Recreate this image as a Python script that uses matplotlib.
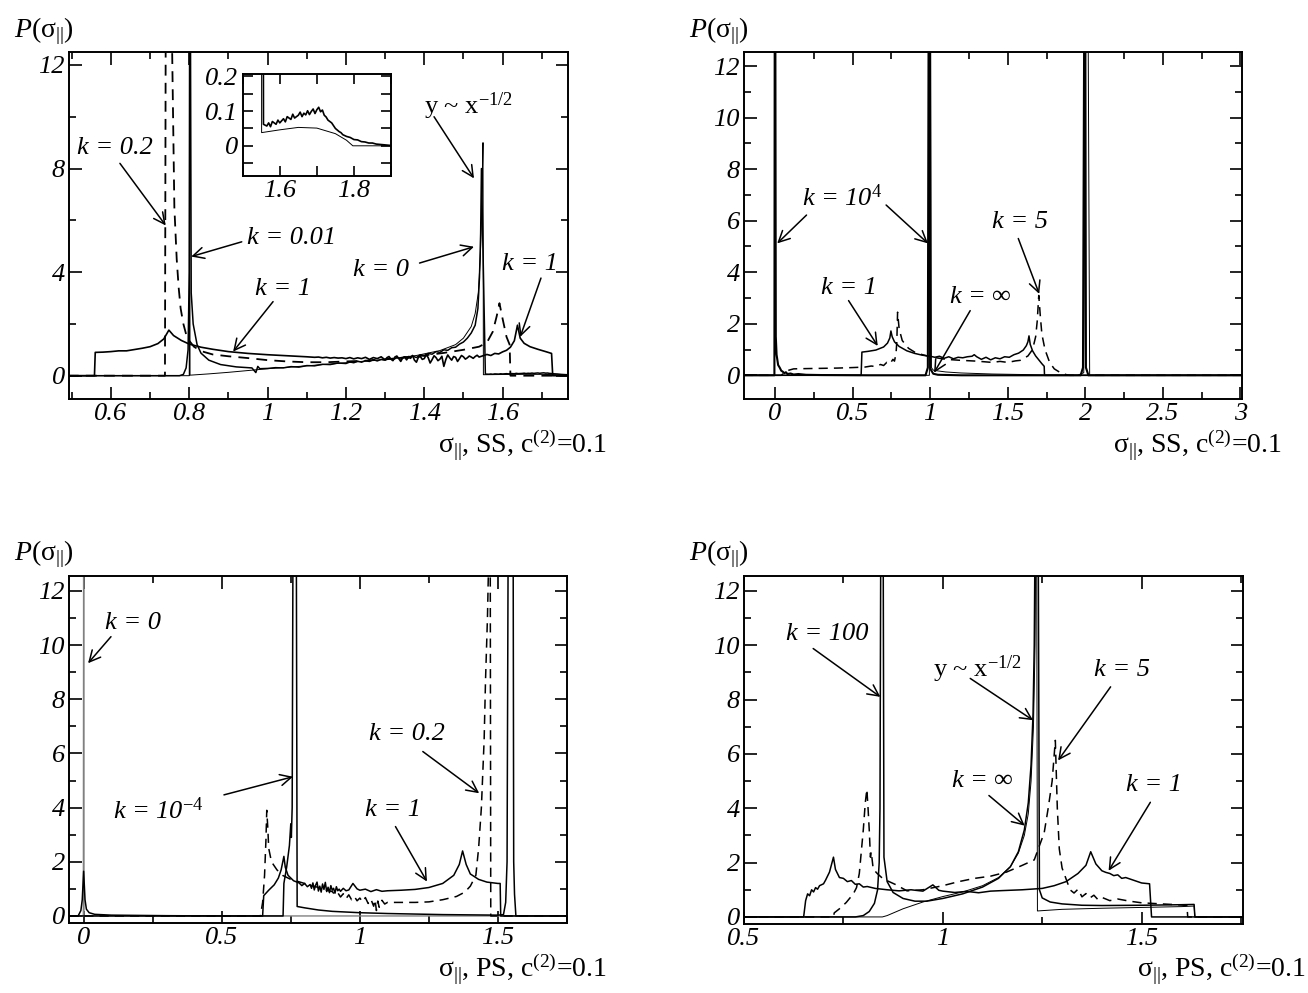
import numpy as np
import matplotlib
matplotlib.use('Agg')
import matplotlib.pyplot as plt
from matplotlib.ticker import MultipleLocator

plt.rcParams['font.family'] = 'Liberation Serif'
plt.rcParams['mathtext.fontset'] = 'custom'
plt.rcParams['mathtext.rm'] = 'Liberation Serif'
plt.rcParams['mathtext.it'] = 'Liberation Serif:italic'
plt.rcParams['mathtext.fallback'] = 'stix'

# ---------------- panel 1 : SS ----------------
p1_k1_x = [0.49, 0.558, 0.560, 0.58, 0.60, 0.62, 0.64, 0.66, 0.68, 0.70, 0.72, 0.735, 0.748, 0.76, 0.78,
           0.80, 0.83, 0.86, 0.90, 0.95, 1.00, 1.05,
           1.10, 1.11, 1.12, 1.13, 1.14, 1.15, 1.16, 1.17, 1.18, 1.19, 1.20, 1.21, 1.22, 1.23, 1.24,
           1.25, 1.26, 1.27, 1.28, 1.29, 1.30, 1.305, 1.31, 1.315, 1.32, 1.325, 1.33, 1.335, 1.34,
           1.345, 1.35, 1.355, 1.36, 1.365, 1.37, 1.375, 1.38, 1.385, 1.39, 1.395, 1.40, 1.405, 1.41,
           1.415, 1.42, 1.425, 1.43, 1.435, 1.44, 1.445, 1.45, 1.455, 1.46, 1.465, 1.47, 1.475, 1.48,
           1.485, 1.49, 1.495, 1.50, 1.505, 1.51, 1.515, 1.52, 1.525, 1.53, 1.535, 1.54, 1.55, 1.56,
           1.57, 1.58, 1.59, 1.60, 1.61, 1.62, 1.63,
           1.638, 1.645, 1.655, 1.67, 1.69, 1.71, 1.725, 1.728, 1.77]
p1_k1_y = [0, 0, 0.90, 0.91, 0.93, 0.96, 0.96, 1.01, 1.06, 1.12, 1.24, 1.42, 1.76, 1.55, 1.36,
           1.22, 1.10, 1.02, 0.93, 0.86, 0.81, 0.77,
           0.73, 0.72, 0.71, 0.72, 0.69, 0.71, 0.68, 0.70, 0.68, 0.69, 0.66, 0.70, 0.65, 0.69, 0.66,
           0.71, 0.63, 0.70, 0.66, 0.73, 0.61, 0.70, 0.74, 0.64, 0.58, 0.72, 0.76, 0.66, 0.55,
           0.69, 0.72, 0.61, 0.74, 0.67, 0.78, 0.60, 0.52, 0.71, 0.74, 0.63, 0.66, 0.81, 0.70,
           0.49, 0.62, 0.77, 0.70, 0.58, 0.64, 0.75, 0.36, 0.62, 0.80, 0.69, 0.60, 0.74, 0.71,
           0.55, 0.66, 0.78, 0.73, 0.64, 0.69, 0.76, 0.72, 0.67, 0.74, 0.79, 0.72, 0.77, 0.82,
           0.78, 0.86, 0.84, 0.92, 0.98, 1.10, 1.35,
           1.95, 1.45, 1.25, 1.12, 1.02, 0.93, 0.86, 0.0, 0.0]

p1_k02_x = [0.49, 0.738, 0.740, 0.742, 0.755, 0.762, 0.768, 0.773, 0.778, 0.785, 0.792, 0.80, 0.812,
            0.83, 0.86, 0.90, 0.95, 1.00, 1.05, 1.10, 1.15, 1.20, 1.25, 1.30, 1.35, 1.40, 1.45, 1.50,
            1.54, 1.56, 1.575, 1.585, 1.592, 1.60, 1.61, 1.618, 1.620, 1.77]
p1_k02_y = [0, 0, 14, 14, 14, 6.5, 4.5, 3.4, 2.6, 2.0, 1.6, 1.35, 1.12,
            0.95, 0.82, 0.75, 0.68, 0.60, 0.55, 0.52, 0.52, 0.55, 0.58, 0.63, 0.70, 0.78, 0.88, 1.00,
            1.12, 1.28, 1.70, 2.30, 2.80, 2.20, 1.50, 1.20, 0.0, 0.0]

p1_k001_x = [0.49, 0.775, 0.785, 0.792, 0.797, 0.800, 0.801, 0.803, 0.805, 0.81, 0.82, 0.83, 0.85,
             0.88, 0.92, 0.96, 0.97, 0.975, 0.98, 1.00, 1.02, 1.04, 1.06, 1.08, 1.10, 1.12, 1.14, 1.16,
             1.18, 1.20, 1.21, 1.22, 1.23, 1.24, 1.25, 1.26, 1.27, 1.28, 1.29, 1.30, 1.31, 1.32, 1.33,
             1.34, 1.35, 1.36, 1.37, 1.38, 1.39, 1.40, 1.41, 1.42, 1.43, 1.44, 1.45, 1.46, 1.47, 1.48,
             1.49, 1.50, 1.51, 1.52, 1.53, 1.537, 1.541, 1.544, 1.546, 1.556,
             1.565, 1.57, 1.575, 1.58, 1.59, 1.595, 1.60, 1.61, 1.615, 1.62, 1.63, 1.635, 1.64, 1.65,
             1.655, 1.66, 1.665, 1.67, 1.675, 1.68, 1.685, 1.69, 1.695, 1.70, 1.705, 1.71, 1.715,
             1.72, 1.725, 1.73, 1.74, 1.745, 1.75, 1.76, 1.765, 1.77, 1.78, 1.79, 1.80, 1.81, 1.82,
             1.83, 1.84, 1.85, 1.86, 1.87, 1.88, 1.89, 1.90]
p1_k001_y = [0, 0, 0.05, 0.3, 1.0, 4.0, 14, 14, 3.2, 2.0, 1.2, 0.87, 0.60,
             0.43, 0.34, 0.30, 0.12, 0.36, 0.27, 0.28, 0.31, 0.30, 0.35, 0.33, 0.39, 0.38, 0.44, 0.43,
             0.49, 0.47, 0.53, 0.50, 0.56, 0.52, 0.58, 0.55, 0.62, 0.57, 0.63, 0.60, 0.67, 0.61, 0.70,
             0.64, 0.73, 0.68, 0.76, 0.70, 0.81, 0.76, 0.86, 0.83, 0.93, 0.90, 1.00, 0.98, 1.08, 1.10,
             1.22, 1.30, 1.45, 1.65, 1.95, 2.6, 3.8, 5.5, 8.0, 0.062,
             0.057, 0.066, 0.055, 0.070, 0.062, 0.074, 0.066, 0.078, 0.069, 0.084, 0.076, 0.091, 0.080,
             0.088, 0.097, 0.084, 0.094, 0.089, 0.101, 0.090, 0.099, 0.106, 0.093, 0.104, 0.111, 0.098,
             0.103, 0.088, 0.083, 0.074, 0.066, 0.058, 0.050, 0.041, 0.038, 0.032, 0.027, 0.024, 0.018,
             0.017, 0.012, 0.011, 0.008, 0.008, 0.005, 0.004, 0.003, 0.002, 0.001]

p1_k0_x = [0.49, 0.800, 0.801, 0.802, 0.85, 0.90, 0.965, 1.00, 1.10, 1.20, 1.30, 1.38, 1.44, 1.48,
           1.50, 1.52, 1.53, 1.538, 1.543, 1.546, 1.548, 1.550, 1.551, 1.60, 1.65, 1.70, 1.75, 1.78,
           1.797, 1.92]
p1_k0_y = [0, 0, 14, 0.02, 0.07, 0.13, 0.22, 0.27, 0.38, 0.50, 0.63, 0.78, 0.97, 1.20,
           1.45, 1.90, 2.40, 3.20, 4.50, 6.00, 7.50, 9.00, 0.038, 0.046, 0.053, 0.051, 0.035, 0.016,
           0.0, 0.0]

# ---------------- panel 2 : SS ----------------
p2_k1e4_x = [-0.2, -0.004, -0.002, 0.002, 0.005, 0.01, 0.02, 0.03, 0.04, 0.05, 0.06, 0.07, 0.08,
             0.10, 0.12, 0.15, 0.2, 0.3, 0.6, 0.97, 0.985, 0.99, 0.998, 1.001, 1.02, 1.05, 1.2,
             1.97, 1.985, 1.993, 2.0, 2.004, 2.02, 3.01]
p2_k1e4_y = [0, 0, 14, 14, 1.5, 0.8, 0.4, 0.3, 0.18, 0.14, 0.08, 0.12, 0.05,
             0.07, 0.03, 0.05, 0.02, 0.01, 0.0, 0.0, 0.3, 14, 14, 0.25, 0.06, 0.02, 0.0,
             0.0, 0.3, 14, 14, 0.3, 0.0, 0.0]

p2_kinf_x = [-0.2, 0.995, 0.997, 1.003, 1.008, 1.02, 1.05, 1.10, 1.20, 1.30, 1.40, 1.50, 1.60,
             1.75, 1.95, 1.99, 2.003, 2.018, 2.028, 3.01]
p2_kinf_y = [0, 0, 14, 14, 0.3, 0.2, 0.17, 0.13, 0.09, 0.07, 0.05, 0.04, 0.03,
             0.01, 0.0, 0.1, 14, 14, 0.0, 0.0]

p2_k1_x = [-0.2, 0.555, 0.56, 0.60, 0.65, 0.70, 0.725, 0.74, 0.747, 0.755, 0.77, 0.80, 0.85, 0.90,
           0.95, 1.00, 1.03, 1.06, 1.09, 1.12, 1.15, 1.18, 1.21, 1.24, 1.27, 1.284, 1.30, 1.33, 1.36,
           1.39, 1.42, 1.45, 1.48, 1.51, 1.54, 1.57, 1.60, 1.62, 1.63, 1.637, 1.645, 1.66, 1.68, 1.70,
           1.72, 1.735, 1.737, 3.01]
p2_k1_y = [0, 0, 0.9, 0.93, 0.98, 1.10, 1.25, 1.45, 1.72, 1.50, 1.30, 1.12, 0.95, 0.85,
           0.78, 0.74, 0.70, 0.74, 0.66, 0.72, 0.64, 0.70, 0.68, 0.72, 0.74, 0.80, 0.72, 0.62, 0.70,
           0.60, 0.68, 0.64, 0.72, 0.70, 0.80, 0.86, 0.98, 1.15, 1.30, 1.53, 1.20, 0.95, 0.75, 0.60,
           0.45, 0.35, 0.0, 0.0]

p2_k5_x = [-0.2, 0.04, 0.06, 0.09, 0.12, 0.2, 0.3, 0.4, 0.5, 0.58, 0.62, 0.65, 0.68, 0.70, 0.72,
           0.74, 0.76, 0.77, 0.78, 0.785, 0.79, 0.80, 0.82, 0.86, 0.90, 0.95, 1.00, 1.10, 1.20, 1.30,
           1.40, 1.45, 1.50, 1.55, 1.58, 1.63, 1.66, 1.68, 1.69, 1.70, 1.71, 1.72, 1.74, 1.77, 1.80,
           1.84, 1.88, 1.90, 3.01]
p2_k5_y = [0, 0, 0.1, 0.2, 0.25, 0.26, 0.27, 0.28, 0.30, 0.32, 0.36, 0.34, 0.42, 0.38, 0.50,
           0.44, 0.62, 0.55, 0.85, 1.3, 2.45, 1.8, 1.35, 1.05, 0.90, 0.80, 0.72, 0.62, 0.58, 0.55,
           0.50, 0.54, 0.50, 0.56, 0.58, 0.75, 1.0, 1.5, 2.1, 3.1, 2.3, 1.6, 1.0, 0.5, 0.25,
           0.1, 0.02, 0.0, 0.0]

# ---------------- panel 3 : PS ----------------
p3_k0_x = [-0.053, -0.001, 0.0, 0.001, 1.75]
p3_k0_y = [0, 0, 14, 0, 0]

p3_k1e4_x = [-0.053, -0.02, -0.01, -0.005, 0.0, 0.005, 0.01, 0.02, 0.04, 0.10, 0.30, 0.50, 0.722,
             0.725, 0.735, 0.745, 0.750, 0.752, 0.755, 0.758, 0.770, 0.773, 0.80, 0.85, 0.90, 1.00,
             1.10, 1.20, 1.30, 1.40, 1.50, 1.52, 1.528, 1.533, 1.537, 1.555, 1.557, 1.56, 1.565, 1.75]
p3_k1e4_y = [0, 0.0, 0.2, 0.6, 1.65, 0.6, 0.25, 0.12, 0.06, 0.03, 0.01, 0.0, 0.0,
             1.2, 1.8, 2.6, 3.4, 2.9, 4.0, 14, 14, 0.35, 0.30, 0.22, 0.17, 0.12,
             0.09, 0.07, 0.05, 0.04, 0.03, 0.05, 0.5, 2.0, 14, 14, 2.0, 0.8, 0.0, 0.0]

p3_k1_x = [-0.053, 0.648, 0.652, 0.67, 0.69, 0.705, 0.715, 0.725, 0.73, 0.74, 0.76, 0.78, 0.79,
           0.80, 0.81, 0.82, 0.825, 0.83, 0.835, 0.84, 0.845, 0.85, 0.855, 0.86, 0.865, 0.87, 0.875,
           0.88, 0.885, 0.89, 0.895, 0.90, 0.905, 0.91, 0.915, 0.92, 0.925, 0.93, 0.94, 0.95, 0.96,
           0.975, 0.99, 1.00, 1.02, 1.04, 1.06, 1.08, 1.10, 1.15, 1.20, 1.25, 1.30, 1.34, 1.36,
           1.372, 1.385, 1.40, 1.43, 1.46, 1.50, 1.508, 1.51, 1.75]
p3_k1_y = [0, 0, 0.75, 0.95, 1.15, 1.40, 1.70, 2.20, 1.80, 1.50, 1.30, 1.22, 1.12,
           1.20, 1.08, 1.16, 1.02, 1.22, 0.96, 1.14, 1.25, 0.92, 1.10, 0.88, 1.18, 0.98, 1.24,
           0.90, 1.06, 0.86, 1.12, 0.95, 1.02, 0.84, 1.08, 0.93, 0.99, 0.91, 1.02, 0.93, 0.96,
           1.20, 1.00, 0.95, 0.99, 0.90, 0.97, 0.91, 0.93, 0.95, 0.98, 1.05, 1.20, 1.50, 1.90,
           2.40, 1.90, 1.55, 1.35, 1.25, 1.20, 1.20, 0.0, 0.0]

p3_k02_x = [-0.053, 0.64, 0.648, 0.655, 0.66, 0.663, 0.667, 0.67, 0.68, 0.70, 0.72, 0.75, 0.80,
            0.85, 0.88, 0.90, 0.91, 0.92, 0.93, 0.94, 0.95, 0.96, 0.97, 0.98, 0.99, 1.00, 1.01,
            1.02, 1.03, 1.04, 1.05, 1.055, 1.06, 1.065, 1.07, 1.08, 1.09, 1.10,
            1.15, 1.20, 1.25, 1.30, 1.35, 1.38, 1.40, 1.42, 1.43, 1.44, 1.45, 1.455, 1.462, 1.468,
            1.472, 1.474, 1.75]
p3_k02_y = [0, 0, 0.5, 1.5, 2.8, 3.9, 3.2, 2.5, 2.0, 1.7, 1.5, 1.35, 1.2,
            1.05, 0.95, 0.90, 0.78, 0.86, 0.70, 0.82, 0.64, 0.78, 0.60, 0.72, 0.56, 0.66, 0.52,
            0.68, 0.46, 0.62, 0.36, 0.60, 0.20, 0.55, 0.32, 0.58, 0.44, 0.50,
            0.50, 0.50, 0.52, 0.60, 0.72, 0.88, 1.10, 1.50, 2.5, 4.0, 6.5, 8.7, 11.0, 14,
            14, 0.0, 0.0]

# ---------------- panel 4 : PS ----------------
p4_k1_x = [0.5, 0.650, 0.655, 0.66, 0.665, 0.67, 0.675, 0.68, 0.685, 0.69, 0.70, 0.705, 0.715,
           0.725, 0.73, 0.74, 0.75, 0.76, 0.77, 0.78, 0.79, 0.80, 0.81, 0.83, 0.86, 0.89, 0.92, 0.95,
           0.975, 0.99, 1.00, 1.03, 1.06, 1.09, 1.12, 1.15, 1.20, 1.25, 1.28, 1.31, 1.34, 1.36,
           1.372, 1.385, 1.40, 1.41, 1.42, 1.43, 1.44, 1.45, 1.46, 1.48, 1.50, 1.52, 1.525, 1.755]
p4_k1_y = [0, 0, 0.6, 0.85, 0.78, 1.0, 0.92, 1.08, 1.02, 1.15, 1.22, 1.35, 1.65,
           2.2, 1.75, 1.45, 1.42, 1.30, 1.34, 1.20, 1.22, 1.10, 1.12, 1.05, 1.00, 0.96, 1.00, 0.95,
           1.18, 0.98, 0.95, 0.90, 0.94, 0.89, 0.95, 0.97, 1.00, 1.05, 1.15, 1.30, 1.60, 1.90,
           2.40, 1.95, 1.70, 1.64, 1.60, 1.52, 1.55, 1.42, 1.45, 1.35, 1.25, 1.22, 0.0, 0.0]

p4_k5_x = [0.5, 0.725, 0.727, 0.74, 0.757, 0.775, 0.783, 0.79, 0.796, 0.80, 0.805, 0.809, 0.812,
           0.815, 0.818, 0.82, 0.825, 0.835, 0.85, 0.88, 0.91, 0.95, 1.00, 1.04, 1.08, 1.12, 1.16,
           1.20, 1.23, 1.255, 1.265, 1.275, 1.283, 1.288, 1.293, 1.30, 1.31, 1.32, 1.33, 1.34, 1.35,
           1.36, 1.37, 1.38, 1.39, 1.40, 1.42, 1.44, 1.47, 1.50, 1.55, 1.60, 1.614, 1.616, 1.755]
p4_k5_y = [0, 0, 0.15, 0.3, 0.53, 0.85, 1.08, 1.6, 2.56, 3.2, 4.2, 4.7, 4.0,
           3.2, 2.2, 2.4, 1.76, 1.6, 1.4, 1.2, 0.96, 1.0, 1.15, 1.3, 1.42, 1.5, 1.65,
           1.9, 2.1, 3.1, 4.0, 5.0, 6.5, 4.0, 2.5, 1.8, 1.4, 1.0, 0.88, 1.02, 0.74, 0.86, 0.70,
           0.80, 0.64, 0.72, 0.60, 0.66, 0.58, 0.52, 0.48, 0.44, 0.42, 0.0, 0.0]

p4_k100_x = [0.5, 0.78, 0.80, 0.815, 0.828, 0.836, 0.840, 0.842, 0.844, 0.850, 0.852, 0.86, 0.875,
             0.90, 0.93, 0.96, 1.00, 1.05, 1.10, 1.14, 1.17, 1.19, 1.205, 1.215, 1.222, 1.227, 1.230,
             1.232, 1.240, 1.243, 1.25, 1.27, 1.30, 1.35, 1.40, 1.50, 1.60, 1.632, 1.634, 1.755]
p4_k100_y = [0, 0, 0.05, 0.2, 0.5, 1.0, 2.0, 4.0, 14, 14, 2.2, 1.3, 0.9,
             0.68, 0.58, 0.58, 0.68, 0.85, 1.1, 1.42, 1.85, 2.4, 3.2, 4.2, 5.6, 7.5, 10,
             14, 14, 1.0, 0.7, 0.55, 0.48, 0.43, 0.42, 0.43, 0.45, 0.46, 0.0, 0.0]

p4_kinf_x = [0.5, 0.848, 0.86, 0.90, 0.95, 1.00, 1.05, 1.10, 1.14, 1.17, 1.19, 1.205, 1.215, 1.222,
             1.228, 1.232, 1.234, 1.236, 1.238, 1.30, 1.40, 1.50, 1.60, 1.632, 1.634, 1.755]
p4_kinf_y = [0, 0, 0.05, 0.30, 0.55, 0.75, 0.92, 1.15, 1.45, 1.85, 2.35, 3.0, 3.8, 5.0,
             7.0, 10, 14, 14, 0.22, 0.28, 0.32, 0.35, 0.38, 0.40, 0.0, 0.0]

DASH = (6, 4)
ARROW = dict(arrowstyle='->', lw=1.1, color='k', mutation_scale=20, shrinkA=0, shrinkB=0)


def style_axes(ax, xmaj, xmin, ymaj, ymin, xlabels, ylabels, size=19):
    ax.set_xticks(xmaj)
    ax.set_xticklabels(xlabels, fontstyle='italic', fontsize=size)
    ax.set_yticks(ymaj)
    ax.set_yticklabels(ylabels, fontstyle='italic', fontsize=size)
    ax.xaxis.set_minor_locator(MultipleLocator(xmin))
    ax.yaxis.set_minor_locator(MultipleLocator(ymin))
    ax.tick_params(which='both', direction='in', top=True, right=True, width=1.2)
    ax.tick_params(which='major', length=9, pad=3)
    ax.tick_params(which='minor', length=5)
    for s in ax.spines.values():
        s.set_linewidth(1.4)


def arrow(ax, text, txy, tail, head, size=19):
    ax.text(txy[0], txy[1], text, fontsize=size, fontstyle='italic', ha='center', va='center')
    ax.annotate('', xy=head, xytext=tail, arrowprops=ARROW)


W, H = 1308, 993
fig = plt.figure(figsize=(W / 100, H / 100), dpi=100)


def add_ax(l, r, t, b):
    return fig.add_axes([l / W, 1 - b / H, (r - l) / W, (b - t) / H])


ylab = r'$\mathit{P(}\mathrm{\sigma}_{\mathrm{||}}\mathit{)}$'

# panel 1
ax1 = add_ax(69, 568, 52, 399)
ax1.plot(p1_k1_x, p1_k1_y, color='k', lw=1.2)
ax1.plot(p1_k02_x, p1_k02_y, color='k', lw=1.3, dashes=DASH)
ax1.plot(p1_k001_x, p1_k001_y, color='k', lw=1.1)
ax1.plot(p1_k0_x, p1_k0_y, color='k', lw=0.7)
ax1.set_xlim(0.493, 1.767)
ax1.set_ylim(-0.9, 12.5)
style_axes(ax1, [0.6, 0.8, 1.0, 1.2, 1.4, 1.6], 0.1, [0, 4, 8, 12], 2,
           ['0.6', '0.8', '1', '1.2', '1.4', '1.6'], ['0', '4', '8', '12'])
arrow(ax1, 'k = 0.2', (0.61, 8.8), (0.623, 8.2), (0.74, 5.8))
arrow(ax1, 'k = 0.01', (1.06, 5.3), (0.934, 5.17), (0.805, 4.6))
arrow(ax1, 'k = 1', (1.04, 3.35), (1.014, 2.86), (0.912, 0.93))
arrow(ax1, 'k = 0', (1.29, 4.1), (1.388, 4.35), (1.527, 4.98))
arrow(ax1, 'k = 1', (1.67, 4.3), (1.698, 3.77), (1.645, 1.5))
ax1.text(1.40, 10.4, r'y ~ x$^{\mathrm{-1/2}}$', fontsize=19, ha='left', va='center')
ax1.annotate('', xy=(1.527, 7.62), xytext=(1.425, 10.0), arrowprops=ARROW)

# inset
axi = add_ax(242.7, 391, 74.3, 176)
axi.plot(p1_k001_x, p1_k001_y, color='k', lw=1.2)
axi.plot(p1_k0_x, p1_k0_y, color='k', lw=0.7)
axi.set_xlim(1.5, 1.9)
axi.set_ylim(-0.087, 0.206)
style_axes(axi, [1.6, 1.8], 0.1, [0, 0.1, 0.2], 0.05, ['1.6', '1.8'], ['0', '0.1', '0.2'])
axi.tick_params(which='major', length=7, pad=3)
axi.tick_params(which='minor', length=7)

# panel 2
ax2 = add_ax(744, 1242, 52, 399)
ax2.plot(p2_k1e4_x, p2_k1e4_y, color='k', lw=1.5)
ax2.plot(p2_kinf_x, p2_kinf_y, color='k', lw=0.7)
ax2.plot(p2_k1_x, p2_k1_y, color='k', lw=1.1)
ax2.plot(p2_k5_x, p2_k5_y, color='k', lw=1.1, dashes=DASH)
ax2.set_xlim(-0.2, 3.01)
ax2.set_ylim(-0.92, 12.55)
style_axes(ax2, [0, 0.5, 1, 1.5, 2, 2.5, 3], 0.25, [0, 2, 4, 6, 8, 10, 12], 1,
           ['0', '0.5', '1', '1.5', '2', '2.5', '3'], ['0', '2', '4', '6', '8', '10', '12'])
arrow(ax2, r'k = 10$^{\mathit{4}}$', (0.43, 6.9), (0.203, 6.22), (0.014, 5.12))
ax2.annotate('', xy=(0.986, 5.12), xytext=(0.716, 6.61), arrowprops=ARROW)
arrow(ax2, 'k = 5', (1.58, 5.95), (1.568, 5.31), (1.703, 3.16))
arrow(ax2, 'k = 1', (0.48, 3.4), (0.474, 2.9), (0.662, 1.14))
arrow(ax2, r'k = $\infty$', (1.32, 3.05), (1.258, 2.51), (1.025, 0.1))

# panel 3
ax3 = add_ax(69, 567, 576, 923)
ax3.plot(p3_k0_x, p3_k0_y, color='0.5', lw=1.0)
ax3.plot(p3_k1e4_x, p3_k1e4_y, color='k', lw=1.1)
ax3.plot(p3_k1_x, p3_k1_y, color='k', lw=1.1)
ax3.plot(p3_k02_x, p3_k02_y, color='k', lw=1.1, dashes=DASH)
ax3.set_xlim(-0.053, 1.75)
ax3.set_ylim(-0.26, 12.55)
style_axes(ax3, [0, 0.5, 1, 1.5], 0.25, [0, 2, 4, 6, 8, 10, 12], 1,
           ['0', '0.5', '1', '1.5'], ['0', '2', '4', '6', '8', '10', '12'])
arrow(ax3, 'k = 0', (0.18, 10.8), (0.099, 10.31), (0.016, 9.33))
arrow(ax3, r'k = 10$^{\mathit{-4}}$', (0.27, 3.9), (0.508, 4.47), (0.758, 5.14))
arrow(ax3, 'k = 0.2', (1.17, 6.7), (1.228, 6.07), (1.432, 4.53))
arrow(ax3, 'k = 1', (1.12, 3.9), (1.129, 3.3), (1.243, 1.27))

# panel 4
ax4 = add_ax(744, 1243, 576, 924)
ax4.plot(p4_k1_x, p4_k1_y, color='k', lw=1.1)
ax4.plot(p4_k5_x, p4_k5_y, color='k', lw=1.1, dashes=DASH)
ax4.plot(p4_k100_x, p4_k100_y, color='k', lw=1.1)
ax4.plot(p4_kinf_x, p4_kinf_y, color='k', lw=0.7)
ax4.set_xlim(0.5, 1.755)
ax4.set_ylim(-0.26, 12.55)
style_axes(ax4, [0.5, 1, 1.5], 0.25, [0, 2, 4, 6, 8, 10, 12], 1,
           ['0.5', '1', '1.5'], ['0', '2', '4', '6', '8', '10', '12'])
arrow(ax4, 'k = 100', (0.71, 10.4), (0.674, 9.88), (0.843, 8.1))
ax4.text(0.975, 9.1, r'y ~ x$^{\mathrm{-1/2}}$', fontsize=19, ha='left', va='center')
ax4.annotate('', xy=(1.227, 7.24), xytext=(1.069, 8.78), arrowprops=ARROW)
arrow(ax4, 'k = 5', (1.45, 9.1), (1.422, 8.47), (1.29, 5.76))
arrow(ax4, r'k = $\infty$', (1.10, 5.0), (1.116, 4.47), (1.206, 3.36))
arrow(ax4, 'k = 1', (1.53, 4.85), (1.522, 4.22), (1.417, 1.7))

# axis titles as figure text
for px, py in [(14, 37), (689, 37), (14, 560), (689, 560)]:
    fig.text(px / W, 1 - py / H, ylab, fontsize=20, ha='left', va='baseline')

xlabs = [(607, 452, 'SS'), (1282, 452, 'SS'), (607, 976, 'PS'), (1306, 976, 'PS')]
for px, py, kind in xlabs:
    fig.text(px / W, 1 - py / H, r'$\mathrm{\sigma}_{\mathrm{||}}$, ' + kind + r', c$^{\mathrm{(2)}}$=0.1',
             fontsize=20, ha='right', va='baseline')

fig.savefig('out.png', dpi=100)
